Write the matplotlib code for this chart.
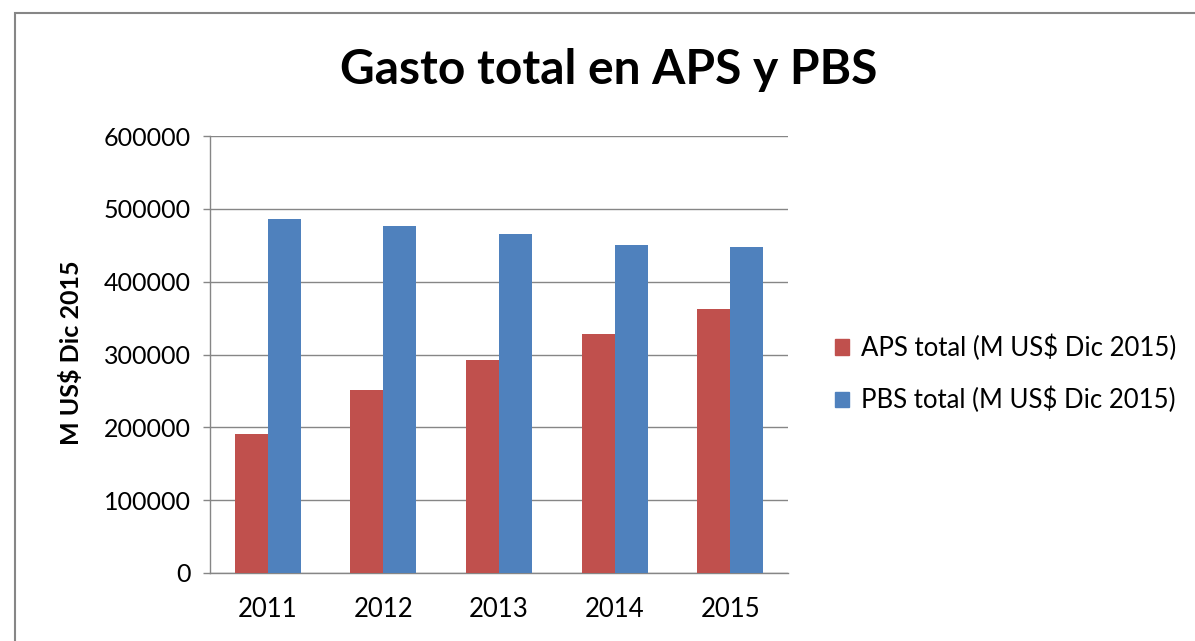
import matplotlib
matplotlib.use("Agg")
import matplotlib.pyplot as plt
from matplotlib.patches import Rectangle, Patch
import numpy as np

years = ["2011", "2012", "2013", "2014", "2015"]
aps_total = [191000, 251000, 293000, 328000, 362000]
pbs_total = [486000, 476000, 465000, 451000, 447000]
yticks = [0, 100000, 200000, 300000, 400000, 500000, 600000]

W, H = 1195, 641
fig = plt.figure(figsize=(W / 100, H / 100), dpi=100)
plt.rcParams['font.family'] = ['Lato', 'DejaVu Sans']

# outer chart border
fig.patches.append(Rectangle((15 / W, -0.1), 1.2, (H - 13) / H + 0.1,
                             transform=fig.transFigure, fill=False,
                             edgecolor='#868686', linewidth=1.5))

ax = fig.add_axes([210 / W, (H - 573) / H, (788 - 210) / W, (573 - 136) / H])
x = np.arange(len(years))
bw = 0.285
red = '#C0504D'
blue = '#4F81BD'
ax.bar(x - bw / 2, aps_total, bw, color=red, edgecolor='none', zorder=3,
       label='APS total (M US$ Dic 2015)')
ax.bar(x + bw / 2, pbs_total, bw, color=blue, edgecolor='none', zorder=3,
       label='PBS total (M US$ Dic 2015)')

ax.set_xlim(-0.5, len(years) - 0.5)
ax.set_ylim(0, 600000)
ax.set_yticks(yticks)
ax.set_yticklabels([str(v) for v in yticks], fontsize=18, color='black')
ax.set_xticks(x)
ax.set_xticklabels(years, fontsize=18.5, color='black')
ax.tick_params(axis='y', length=5, width=1, color='#868686', pad=9)
ax.tick_params(axis='x', length=0, pad=17)
ax.yaxis.grid(True, color='#868686', linewidth=1, zorder=0)
ax.set_axisbelow(True)
for s in ['top', 'right']:
    ax.spines[s].set_visible(False)
for s in ['left', 'bottom']:
    ax.spines[s].set_color('#868686')
    ax.spines[s].set_linewidth(1)

fig.text(71 / W, 1 - 353 / H, 'M US$ Dic 2015', rotation=90, fontsize=18,
         fontweight='bold', ha='center', va='center')

fig.text(609 / W, 1 - 70 / H, 'Gasto total en APS y PBS', fontsize=34.5,
         fontweight='bold', ha='center', va='center')

handles = [Patch(color=red, label='APS total (M US$ Dic 2015)'),
           Patch(color=blue, label='PBS total (M US$ Dic 2015)')]
leg = fig.legend(handles=handles, loc='center left',
                 bbox_to_anchor=(835 / W, 1 - 374 / H), frameon=False,
                 fontsize=18.5, handlelength=0.55, handleheight=0.55,
                 handletextpad=0.45, labelspacing=1.0, borderpad=0,
                 borderaxespad=0)

fig.savefig('out.png', dpi=100)
